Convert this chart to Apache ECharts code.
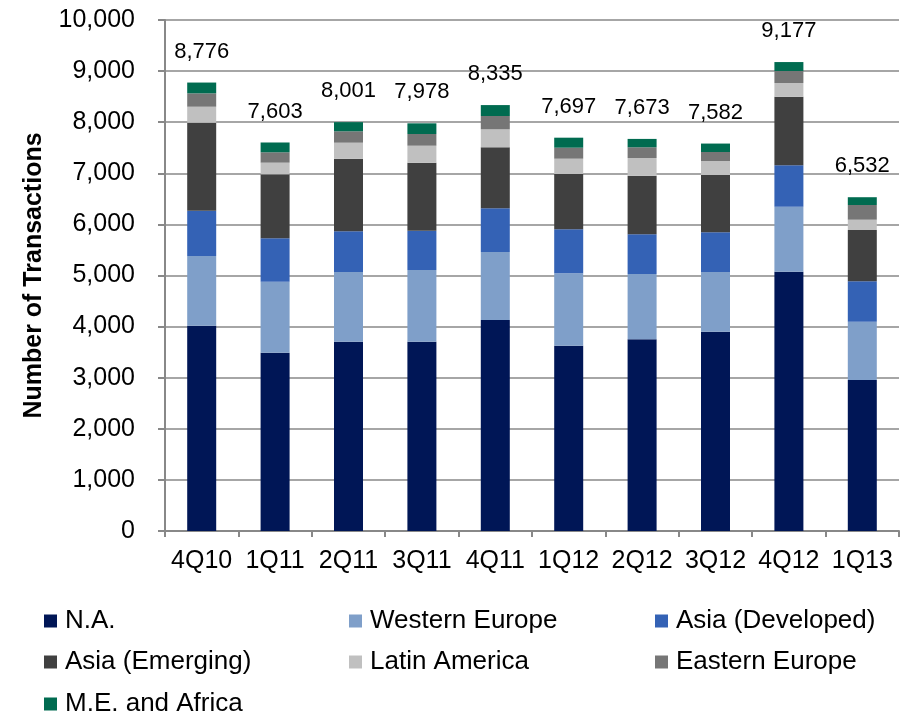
<!DOCTYPE html>
<html>
<head>
<meta charset="utf-8">
<script src="https://cdn.jsdelivr.net/npm/echarts@6/dist/echarts.min.js"></script>
<style>
  html, body { margin: 0; padding: 0; background: #fff; }
  #chart { width: 905px; height: 717px; }
</style>
</head>
<body>
<div id="chart"></div>
<script>
  // quarters on the x axis
  const quarters = ['4Q10', '1Q11', '2Q11', '3Q11', '4Q11', '1Q12', '2Q12', '3Q12', '4Q12', '1Q13'];

  // transactions by region
  const northAmerica   = [4018, 3489, 3705, 3705, 4129, 3626, 3751, 3900, 5075, 2955];
  const westernEurope  = [1364, 1390, 1363, 1403, 1331, 1417, 1278, 1168, 1271, 1141];
  const asiaDeveloped  = [886, 849, 797, 769, 855, 861, 777, 777, 811, 790];
  const asiaEmerging   = [1722, 1252, 1421, 1331, 1194, 1082, 1147, 1122, 1342, 1004];
  const latinAmerica   = [313, 228, 313, 332, 352, 300, 346, 274, 268, 202];
  const easternEurope  = [262, 203, 223, 229, 260, 215, 210, 176, 235, 288];
  const meAfrica       = [211, 192, 179, 209, 214, 196, 164, 165, 175, 152];

  // totals printed above the bars
  const totals = [8776, 7603, 8001, 7978, 8335, 7697, 7673, 7582, 9177, 6532];

  const yTicks = [0, 1000, 2000, 3000, 4000, 5000, 6000, 7000, 8000, 9000, 10000];

  const seriesDefs = [
    { name: 'N.A.', data: northAmerica, color: '#001656' },
    { name: 'Western Europe', data: westernEurope, color: '#7f9fc9' },
    { name: 'Asia (Developed)', data: asiaDeveloped, color: '#3462b5' },
    { name: 'Asia (Emerging)', data: asiaEmerging, color: '#404040' },
    { name: 'Latin America', data: latinAmerica, color: '#c0c0c0' },
    { name: 'Eastern Europe', data: easternEurope, color: '#767676' },
    { name: 'M.E. and Africa', data: meAfrica, color: '#006b50' }
  ];

  const font = "'Liberation Sans', Arial, sans-serif";

  // legend laid out in 3 columns
  const legendPos = [
    [44, 608], [349, 608], [655, 608],
    [44, 649], [349, 649], [655, 649],
    [44, 691]
  ];

  const chart = echarts.init(document.getElementById('chart'));

  const series = seriesDefs.map(function (s, i) {
    const item = {
      name: s.name,
      type: 'bar',
      stack: 'total',
      barWidth: 29,
      data: s.data,
      itemStyle: { color: s.color },
      emphasis: { disabled: true }
    };
    if (i === seriesDefs.length - 1) {
      item.label = {
        show: true,
        position: 'top',
        distance: 20,
        fontFamily: font,
        fontSize: 22,
        color: '#000',
        formatter: function (p) { return totals[p.dataIndex].toLocaleString('en-US'); }
      };
    }
    return item;
  });

  chart.setOption({
    animation: false,
    backgroundColor: '#fff',
    grid: { left: 165, right: 6, top: 20, bottom: 186 },
    legend: seriesDefs.map(function (s, i) {
      return {
        data: [s.name],
        left: legendPos[i][0],
        top: legendPos[i][1],
        itemWidth: 13,
        itemHeight: 13,
        padding: 0,
        icon: 'rect',
        textStyle: { fontFamily: font, fontSize: 26, color: '#000', padding: [0, 0, 0, 3] }
      };
    }),
    xAxis: {
      type: 'category',
      data: quarters,
      axisLine: { lineStyle: { color: '#888', width: 2 } },
      axisTick: { show: true, length: 6, lineStyle: { color: '#888', width: 2 } },
      axisLabel: { interval: 0, hideOverlap: false, fontFamily: font, fontSize: 25, color: '#000', margin: 18 }
    },
    yAxis: {
      type: 'value',
      min: yTicks[0],
      max: yTicks[yTicks.length - 1],
      interval: 1000,
      name: 'Number of Transactions',
      nameLocation: 'middle',
      nameGap: 118,
      nameTextStyle: { fontFamily: font, fontSize: 25, fontWeight: 'bold', color: '#000' },
      axisLine: { show: true, lineStyle: { color: '#888', width: 2 } },
      axisTick: { show: true, length: 7, lineStyle: { color: '#888', width: 2 } },
      axisLabel: {
        fontFamily: font,
        fontSize: 25,
        color: '#000',
        margin: 30,
        formatter: function (v) { return v.toLocaleString('en-US'); }
      },
      splitLine: { show: true, lineStyle: { color: '#a6a6a6', width: 2 } }
    },
    series: series
  });
</script>
</body>
</html>
